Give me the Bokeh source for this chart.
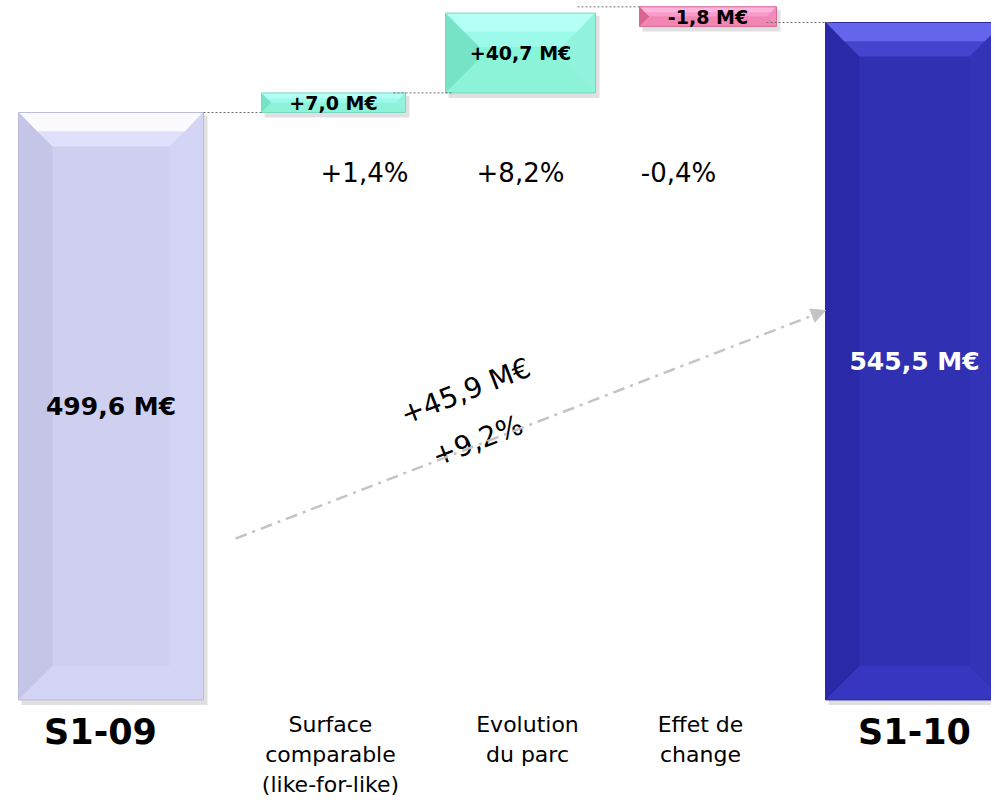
import math
from bokeh.plotting import figure
from bokeh.models import Range1d, Arrow, NormalHead, ColumnDataSource
from bokeh.core.properties import value
from bokeh.embed import file_html
from bokeh.resources import INLINE

# ---------------- data ----------------
categories = ["S1-09", "Surface\ncomparable\n(like-for-like)", "Evolution\ndu parc", "Effet de\nchange", "S1-10"]
start_total = 499.6
deltas = [7.0, 40.7, -1.8]
end_total = 545.5
bar_labels = ["499,6 M€", "+7,0 M€", "+40,7 M€", "-1,8 M€", "545,5 M€"]
pct_labels = ["+1,4%", "+8,2%", "-0,4%"]
change_label = "+45,9 M€"
change_pct = "+9,2%"

# ---------------- layout ----------------
W, H = 991, 799
K = 90 / 45.9                 # px per M€
Y_END = 556.72
Y_START = Y_END - H / K
BASE = 200.0                  # broken value axis starts here
MIN_H = 10.0                  # minimum visible height of a delta bar
NEG_PAD = 2.0

FONT = "DejaVu Sans"
x_centers = [110.5, 333, 520, 707.5, 914]
widths = [185, 144, 150, 137, 178]
label_x = [100, 330, 527, 700, 914]
pct_dx = [31, 0, -29.5]
PCT_Y = 469

styles = {
    "start": dict(main="#cfcff0", t1="#fafaff", t2="#e0e0fa", left="#c5c5e7", right="#d4d4f4", bottom="#d4d4f4", edge="#bcbcdc"),
    "up":    dict(main="#86f5d9", t1="#b4fff6", t2="#9cfaea", left="#76e2c6", right="#92f3dd", bottom="#8cf2d8", edge="#7ad8c0"),
    "down":  dict(main="#f07aa8", t1="#ffb4de", t2="#f99ccb", left="#da6490", right="#f28cba", bottom="#f286b2", edge="#d86a96"),
    "end":   dict(main="#3030b2", t1="#6464ec", t2="#4444ce", left="#2a2aa8", right="#3333b8", bottom="#3636c0", edge="#2a2aa0"),
}

# ---------------- compute bar extents ----------------
lows, highs, kinds = [BASE], [start_total], ["start"]
true_level = start_total
disp_top = start_total
for d in deltas:
    if d >= 0:
        lo = disp_top
        hi = lo + max(d, MIN_H)
        disp_top = hi
        kinds.append("up")
    else:
        lo = true_level + d - NEG_PAD
        hi = lo + max(-d, MIN_H)
        kinds.append("down")
    true_level += d
    lows.append(lo)
    highs.append(hi)
lows.append(BASE)
highs.append(end_total)
kinds.append("end")

lefts = [c - w / 2 for c, w in zip(x_centers, widths)]
rights = [c + w / 2 for c, w in zip(x_centers, widths)]

p = figure(width=W, height=H, output_backend="svg", toolbar_location=None,
           x_range=Range1d(0, W), y_range=Range1d(Y_START, Y_END),
           min_border=0, outline_line_color=None)
p.axis.visible = False
p.grid.visible = False
p.background_fill_color = "white"
p.border_fill_color = "white"

# shadows
p.quad(left=[l + 3 for l in lefts], right=[r + 4 for r in rights],
       bottom=[lo - 5 / K for lo in lows], top=[hi - 3 / K for hi in highs],
       fill_color="black", fill_alpha=0.12, line_color=None)

# bars + bevels
for i in range(5):
    st = styles[kinds[i]]
    L, R, B, T = lefts[i], rights[i], lows[i], highs[i]
    hpx = (T - B) * K
    b = min(34.0, hpx / 2, (R - L) / 2)
    by = b / K
    p.quad(left=[L], right=[R], bottom=[B], top=[T], fill_color=st["main"], line_color=None)
    p.patch([L, L + b, L + b, L], [T, T - by, B + by, B], fill_color=st["left"], line_color=None)
    p.patch([R, R - b, R - b, R], [T, T - by, B + by, B], fill_color=st["right"], line_color=None)
    p.patch([L, R, R - b, L + b], [B, B, B + by, B + by], fill_color=st["bottom"], line_color=None)
    hb = b * 0.55
    p.patch([L, R, R - b, L + b], [T, T, T - by, T - by], fill_color=st["t2"], line_color=None)
    p.patch([L + 1, R - 1, R - hb, L + hb], [T, T, T - hb / K, T - hb / K], fill_color=st["t1"], line_color=None)
    p.quad(left=[L], right=[R], bottom=[B], top=[T], fill_color=None, line_color=st["edge"], line_width=1)

# connectors
conn_x0 = [rights[0], rights[1] - 12, rights[2] - 18, rights[3] - 10]
conn_x1 = [lefts[1], lefts[2] + 6, lefts[3], lefts[4] + 6]
conn_y = [start_total, lows[2], highs[3], end_total]
p.segment(x0=conn_x0, x1=conn_x1, y0=conn_y, y1=conn_y, line_color="#707070",
          line_dash="2 2", line_width=1)

# bar value labels
lab_src = ColumnDataSource(dict(
    x=x_centers, y=[(lo + hi) / 2 for lo, hi in zip(lows, highs)], text=bar_labels,
    size=["25px", "19px", "19px", "19px", "25px"],
    color=["black", "black", "black", "black", "white"]))
p.text(x="x", y="y", text="text", source=lab_src, text_font=value(FONT),
       text_font_style="bold", text_font_size="size", text_color="color",
       text_align="center", text_baseline="middle")

# percent labels
p.text(x=[x_centers[i + 1] + pct_dx[i] for i in range(3)], y=[PCT_Y] * 3, text=pct_labels,
       text_font=value(FONT), text_font_size="26px", text_color="black",
       text_align="center", text_baseline="middle")

# category labels
big = [0, 4]
small = [1, 2, 3]
p.text(x=[label_x[i] for i in big], y=[BASE - 16.3] * 2, text=[categories[i] for i in big],
       text_font=value(FONT), text_font_style="bold", text_font_size="35px",
       text_color="black", text_align="center", text_baseline="middle")
p.text(x=[label_x[i] for i in small], y=[BASE - 6.2] * 3, text=[categories[i] for i in small],
       text_font=value(FONT), text_font_size="22px", text_color="black",
       text_align="center", text_baseline="top", text_line_height=1.2)

# overall change arrow
ax0, ay0 = lefts[0] + 217, 282.3
ax1, ay1 = lefts[4], 398.6
p.add_layout(Arrow(x_start=ax0, y_start=ay0, x_end=ax1, y_end=ay1,
                   line_color="#c4c4c4", line_width=2.5, line_dash="12 6 3 6",
                   end=NormalHead(size=14, fill_color="#c4c4c4", line_color="#c4c4c4")))
ang = math.atan2((ay1 - ay0) * K, ax1 - ax0)
p.text(x=[465, 477], y=[357.5, 332.3], text=[change_label, change_pct],
       text_font=value(FONT), text_font_size="28px", text_color="black",
       text_align="center", text_baseline="middle", angle=ang)

open("out.html", "w").write(file_html(p, INLINE))
